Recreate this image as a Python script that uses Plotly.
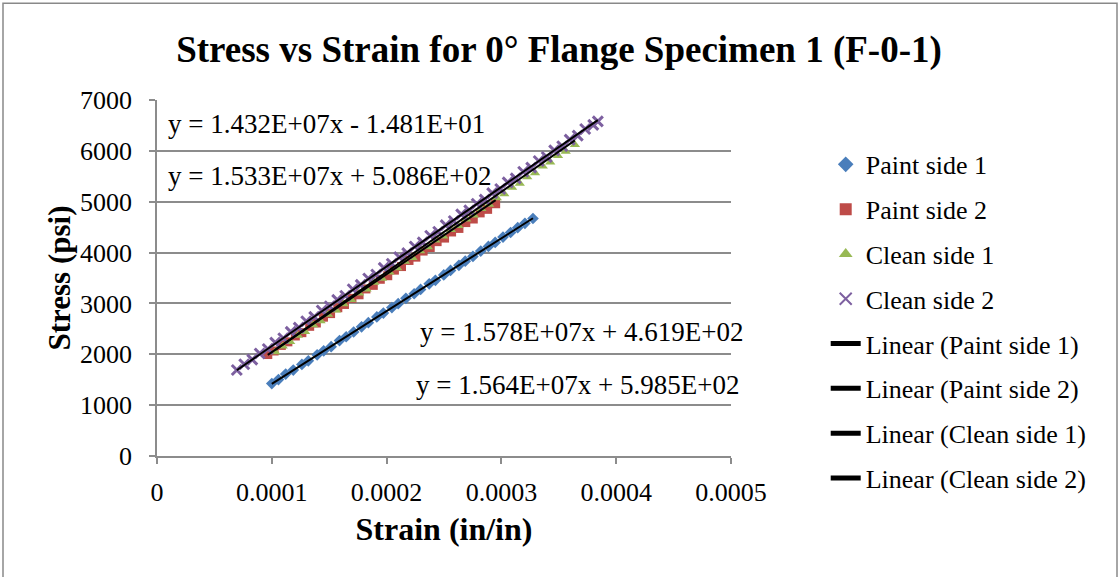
import plotly.graph_objects as go

# ---------------- data ----------------
paint1_strain = [1.000e-4, 1.058e-4, 1.121e-4, 1.187e-4, 1.262e-4, 1.318e-4, 1.395e-4, 1.452e-4, 1.517e-4,
                 1.590e-4, 1.648e-4, 1.713e-4, 1.782e-4, 1.841e-4, 1.915e-4, 1.972e-4, 2.046e-4, 2.101e-4,
                 2.168e-4, 2.240e-4, 2.296e-4, 2.371e-4, 2.425e-4, 2.498e-4, 2.557e-4, 2.630e-4, 2.685e-4,
                 2.752e-4, 2.820e-4, 2.887e-4, 2.946e-4, 3.014e-4, 3.080e-4, 3.142e-4, 3.205e-4, 3.275e-4]
paint1_stress = [1425, 1502, 1611, 1690, 1800, 1872, 1990, 2068, 2150,
                 2270, 2345, 2438, 2540, 2622, 2735, 2810, 2918, 2995,
                 3100, 3190, 3275, 3385, 3455, 3560, 3648, 3750, 3830,
                 3925, 4030, 4120, 4200, 4305, 4395, 4490, 4575, 4670]

paint2_strain = [0.965e-4, 1.020e-4, 1.083e-4, 1.140e-4, 1.205e-4, 1.262e-4, 1.330e-4, 1.388e-4, 1.450e-4,
                 1.512e-4, 1.575e-4, 1.633e-4, 1.698e-4, 1.760e-4, 1.820e-4, 1.884e-4, 1.945e-4, 2.010e-4,
                 2.068e-4, 2.130e-4, 2.195e-4, 2.255e-4, 2.318e-4, 2.380e-4, 2.440e-4, 2.505e-4, 2.566e-4,
                 2.630e-4, 2.690e-4, 2.755e-4, 2.815e-4, 2.880e-4, 2.950e-4]
paint2_stress = [1995, 2065, 2175, 2245, 2360, 2425, 2550, 2615, 2730,
                 2800, 2915, 2980, 3100, 3170, 3285, 3355, 3475, 3545,
                 3655, 3725, 3845, 3910, 4030, 4100, 4215, 4285, 4405,
                 4475, 4590, 4660, 4780, 4850, 4960]

clean1_strain = [1.030e-4, 1.095e-4, 1.160e-4, 1.228e-4, 1.290e-4, 1.360e-4, 1.425e-4, 1.490e-4, 1.560e-4,
                 1.625e-4, 1.692e-4, 1.760e-4, 1.825e-4, 1.893e-4, 1.960e-4, 2.025e-4, 2.093e-4, 2.160e-4,
                 2.225e-4, 2.292e-4, 2.360e-4, 2.425e-4, 2.493e-4, 2.560e-4, 2.625e-4, 2.693e-4, 2.760e-4,
                 2.825e-4, 2.893e-4, 2.960e-4, 3.025e-4, 3.093e-4, 3.160e-4, 3.225e-4, 3.293e-4, 3.360e-4,
                 3.425e-4, 3.493e-4, 3.560e-4, 3.640e-4]
clean1_stress = [2045, 2160, 2245, 2370, 2445, 2575, 2655, 2780, 2865,
                 2990, 3070, 3200, 3280, 3410, 3490, 3615, 3695, 3825,
                 3900, 4030, 4110, 4240, 4320, 4450, 4525, 4655, 4735,
                 4860, 4945, 5075, 5150, 5280, 5360, 5485, 5565, 5695,
                 5775, 5905, 5985, 6120]

clean2_strain = [0.695e-4, 0.760e-4, 0.830e-4, 0.895e-4, 0.965e-4, 1.030e-4, 1.100e-4, 1.165e-4, 1.235e-4,
                 1.300e-4, 1.370e-4, 1.435e-4, 1.505e-4, 1.570e-4, 1.640e-4, 1.705e-4, 1.775e-4, 1.840e-4,
                 1.910e-4, 1.975e-4, 2.045e-4, 2.110e-4, 2.180e-4, 2.245e-4, 2.315e-4, 2.380e-4, 2.450e-4,
                 2.515e-4, 2.585e-4, 2.650e-4, 2.720e-4, 2.785e-4, 2.855e-4, 2.920e-4, 2.990e-4, 3.055e-4,
                 3.125e-4, 3.190e-4, 3.260e-4, 3.325e-4, 3.395e-4, 3.460e-4, 3.530e-4, 3.595e-4, 3.665e-4,
                 3.730e-4, 3.800e-4, 3.840e-4]
clean2_stress = [1690, 1805, 1895, 2015, 2105, 2230, 2315, 2440, 2525,
                 2650, 2735, 2860, 2945, 3070, 3150, 3280, 3365, 3490,
                 3570, 3700, 3780, 3910, 3990, 4120, 4200, 4330, 4410,
                 4540, 4620, 4750, 4830, 4960, 5040, 5170, 5250, 5380,
                 5460, 5590, 5670, 5800, 5880, 6010, 6090, 6220, 6300,
                 6430, 6510, 6580]

series_names = ["Paint side 1", "Paint side 2", "Clean side 1", "Clean side 2"]
trend_slopes = [1.432e7, 1.533e7, 1.578e7, 1.564e7]
trend_intercepts = [-1.481e1, 5.086e2, 4.619e2, 5.985e2]
trend_labels = ["y = 1.432E+07x - 1.481E+01", "y = 1.533E+07x + 5.086E+02",
                "y = 1.578E+07x + 4.619E+02", "y = 1.564E+07x + 5.985E+02"]
label_x = [0.0000082, 0.0000082, 0.000227, 0.0002237]
label_y = [6528, 5503, 2446, 1400]

x_tickvals = [0, 0.0001, 0.0002, 0.0003, 0.0004, 0.0005]
x_ticktext = ["0", "0.0001", "0.0002", "0.0003", "0.0004", "0.0005"]
y_tickvals = [0, 1000, 2000, 3000, 4000, 5000, 6000, 7000]
y_ticktext = ["0", "1000", "2000", "3000", "4000", "5000", "6000", "7000"]

# ---------------- figure ----------------
FONT = "Liberation Serif, Times New Roman, serif"
colors = ["#4A7EBB", "#BE4B48", "#98B954", "#7D60A0"]
symbols = ["diamond", "square", "triangle-up", "x-thin-open"]

strains = [paint1_strain, paint2_strain, clean1_strain, clean2_strain]
stresses = [paint1_stress, paint2_stress, clean1_stress, clean2_stress]

fig = go.Figure()
for i in range(4):
    sym = symbols[i]
    mk = dict(color=colors[i], size=9, symbol=sym)
    if sym == "x-thin-open":
        mk = dict(color=colors[i], size=10, symbol=sym, line=dict(color=colors[i], width=3))
    fig.add_trace(go.Scatter(x=strains[i], y=stresses[i], mode="markers", name=series_names[i],
                             marker=mk, legendgroup=f"g{i}"))

for i in range(4):
    xs = [min(strains[i]), max(strains[i])]
    ys = [trend_slopes[i] * v + trend_intercepts[i] for v in xs]
    fig.add_trace(go.Scatter(x=xs, y=ys, mode="lines", name=f"Linear ({series_names[i]})",
                             line=dict(color="black", width=2), legendgroup=f"l{i}"))

for i in range(4):
    fig.add_annotation(x=label_x[i], y=label_y[i], xref="x", yref="y", text=trend_labels[i],
                       showarrow=False, xanchor="left", yanchor="middle",
                       font=dict(family=FONT, size=27, color="black"))

grid = "#8C8C8C"
fig.update_xaxes(range=[0, 0.0005], tickvals=x_tickvals, ticktext=x_ticktext,
                 showgrid=False, zeroline=False, showline=True, linecolor=grid, linewidth=1.5,
                 ticks="outside", ticklen=6, tickcolor=grid, tickwidth=1.5,
                 tickfont=dict(family=FONT, size=26, color="black"), ticklabelstandoff=6,
                 title=dict(text="<b>Strain (in/in)</b>", font=dict(family=FONT, size=32, color="black"),
                            standoff=12))
fig.update_yaxes(range=[0, 7000], tickvals=y_tickvals, ticktext=y_ticktext,
                 showgrid=True, gridcolor=grid, gridwidth=1.5, zeroline=False,
                 showline=True, linecolor=grid, linewidth=1.5,
                 ticks="outside", ticklen=6, tickcolor=grid, tickwidth=1.5,
                 tickfont=dict(family=FONT, size=26, color="black"), ticklabelstandoff=12,
                 title=dict(text="<b>Stress (psi)</b>", font=dict(family=FONT, size=31, color="black"),
                            standoff=0))

fig.update_layout(
    width=1118, height=577,
    margin=dict(l=157, r=387, t=100, b=121),
    paper_bgcolor="white", plot_bgcolor="white",
    title=dict(text="<b>Stress vs Strain for 0° Flange Specimen 1 (F-0-1)</b>",
               font=dict(family=FONT, size=37, color="black"),
               x=0.5, xanchor="center", xref="container", y=0.915, yanchor="middle"),
    showlegend=True,
    legend=dict(x=1.165, xanchor="left", y=0.885, yanchor="top",
                font=dict(family=FONT, size=26, color="black"),
                traceorder="grouped", tracegroupgap=8, bgcolor="rgba(0,0,0,0)",
                itemsizing="constant", maxheight=600),
    shapes=[dict(type="rect", xref="paper", yref="paper",
                 x0=(3 - 157) / 574, x1=(1117 - 157) / 574,
                 y0=(456 - 590) / 355.5, y1=(456 - 4) / 355.5,
                 line=dict(color="#898989", width=1.5), fillcolor="rgba(0,0,0,0)", layer="below")],
)

fig.write_html("out.html")
